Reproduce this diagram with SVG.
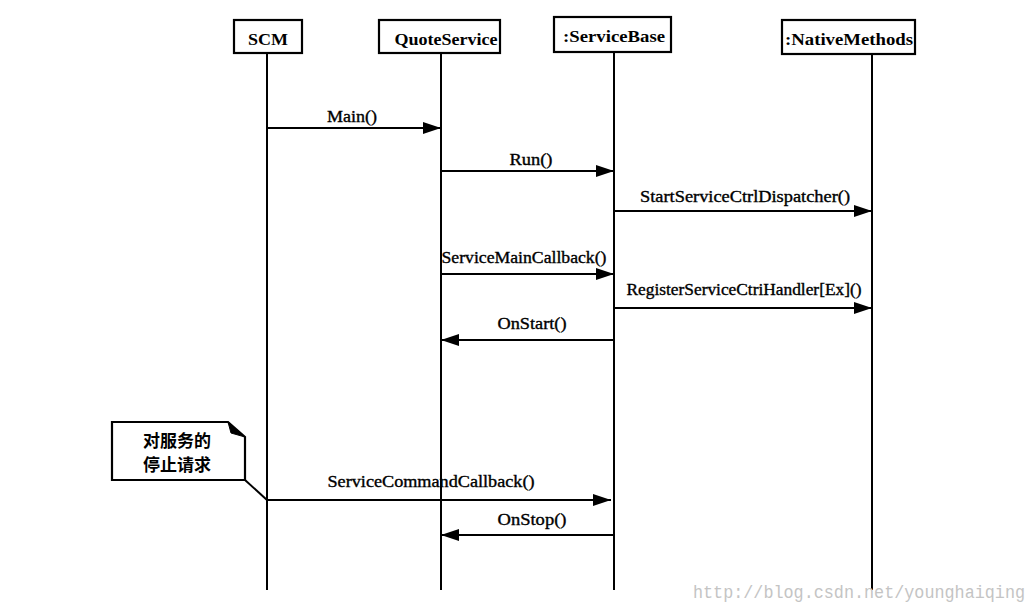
<svg xmlns="http://www.w3.org/2000/svg" width="1035" height="611" viewBox="0 0 1035 611">
<style>
.box{fill:#fff;stroke:#000;stroke-width:2.2}
.life{stroke:#000;stroke-width:2;fill:none}
.msg{stroke:#000;stroke-width:2;fill:none}
.hdr{font-family:"Liberation Serif","Times New Roman",serif;font-weight:bold;font-size:16px;text-anchor:middle;fill:#000}
.lbl{font-family:"Liberation Serif","Times New Roman",serif;font-size:16px;text-anchor:middle;fill:#000;stroke:#000;stroke-width:0.35}
.note{font-family:"Noto Sans CJK SC","Noto Sans CJK JP",sans-serif;font-weight:bold;font-size:17px;text-anchor:middle;fill:#000}
.wm{font-family:"Liberation Mono","DejaVu Sans Mono",monospace;font-size:19px;fill:#c4c4c4}
</style>
<defs>
<marker id="ah" markerUnits="userSpaceOnUse" markerWidth="20" markerHeight="14" refX="18" refY="6" orient="auto">
<path d="M0,0 L18,6 L0,12 Z" fill="#000"/>
</marker>
</defs>
<rect width="1035" height="611" fill="#fff"/>

<g id="node-scm">
<rect class="box" x="234" y="20" width="68" height="33"/>
<text class="hdr" x="268" y="45" textLength="40" lengthAdjust="spacingAndGlyphs">SCM</text>
<line class="life" x1="267" y1="53" x2="267" y2="590"/>
</g>
<g id="node-quoteservice">
<rect class="box" x="379" y="20" width="121" height="33"/>
<text class="hdr" x="446" y="45" textLength="103" lengthAdjust="spacingAndGlyphs">QuoteService</text>
<line class="life" x1="441" y1="53" x2="441" y2="590"/>
</g>
<g id="node-servicebase">
<rect class="box" x="554" y="17" width="117" height="35"/>
<text class="hdr" x="614" y="42" textLength="102" lengthAdjust="spacingAndGlyphs">:ServiceBase</text>
<line class="life" x1="614" y1="52" x2="614" y2="590"/>
</g>
<g id="node-nativemethods">
<rect class="box" x="782" y="20" width="133" height="34"/>
<text class="hdr" x="849" y="45" textLength="128" lengthAdjust="spacingAndGlyphs">:NativeMethods</text>
<line class="life" x1="872" y1="54" x2="872" y2="590"/>
</g>
<g id="node-note">
<path class="box" d="M112,422 L228,422 L245,437 L245,480 L112,480 Z"/>
<path d="M228,422 L231,433 L245,437 Z" fill="#000" stroke="#000" stroke-width="1"/>
<text class="note" x="177" y="447">对服务的</text>
<text class="note" x="177" y="471">停止请求</text>
</g>

<g id="connectors">
<line class="msg" x1="267" y1="128" x2="441" y2="128" marker-end="url(#ah)"/>
<text class="lbl" x="352" y="122" textLength="50" lengthAdjust="spacingAndGlyphs">Main()</text>
<line class="msg" x1="441" y1="171" x2="614" y2="171" marker-end="url(#ah)"/>
<text class="lbl" x="531" y="165" textLength="43" lengthAdjust="spacingAndGlyphs">Run()</text>
<line class="msg" x1="614" y1="211" x2="872" y2="211" marker-end="url(#ah)"/>
<text class="lbl" x="745" y="202" textLength="210" lengthAdjust="spacingAndGlyphs">StartServiceCtrlDispatcher()</text>
<line class="msg" x1="441" y1="274" x2="614" y2="274" marker-end="url(#ah)"/>
<text class="lbl" x="524" y="263" textLength="165" lengthAdjust="spacingAndGlyphs">ServiceMainCallback()</text>
<line class="msg" x1="614" y1="308" x2="872" y2="308" marker-end="url(#ah)"/>
<text class="lbl" x="744" y="295" textLength="235" lengthAdjust="spacingAndGlyphs">RegisterServiceCtriHandler[Ex]()</text>
<line class="msg" x1="614" y1="340" x2="441" y2="340" marker-end="url(#ah)"/>
<text class="lbl" x="532" y="329" textLength="69" lengthAdjust="spacingAndGlyphs">OnStart()</text>
<line class="msg" x1="245" y1="480" x2="267" y2="500"/>
<line class="msg" x1="267" y1="500" x2="611" y2="500" marker-end="url(#ah)"/>
<text class="lbl" x="431" y="487" textLength="207" lengthAdjust="spacingAndGlyphs">ServiceCommandCallback()</text>
<line class="msg" x1="614" y1="535" x2="441" y2="535" marker-end="url(#ah)"/>
<text class="lbl" x="532" y="525" textLength="69" lengthAdjust="spacingAndGlyphs">OnStop()</text>
</g>

<text class="wm" x="693" y="598" textLength="332" lengthAdjust="spacingAndGlyphs">http://blog.csdn.net/younghaiqing</text>
</svg>
